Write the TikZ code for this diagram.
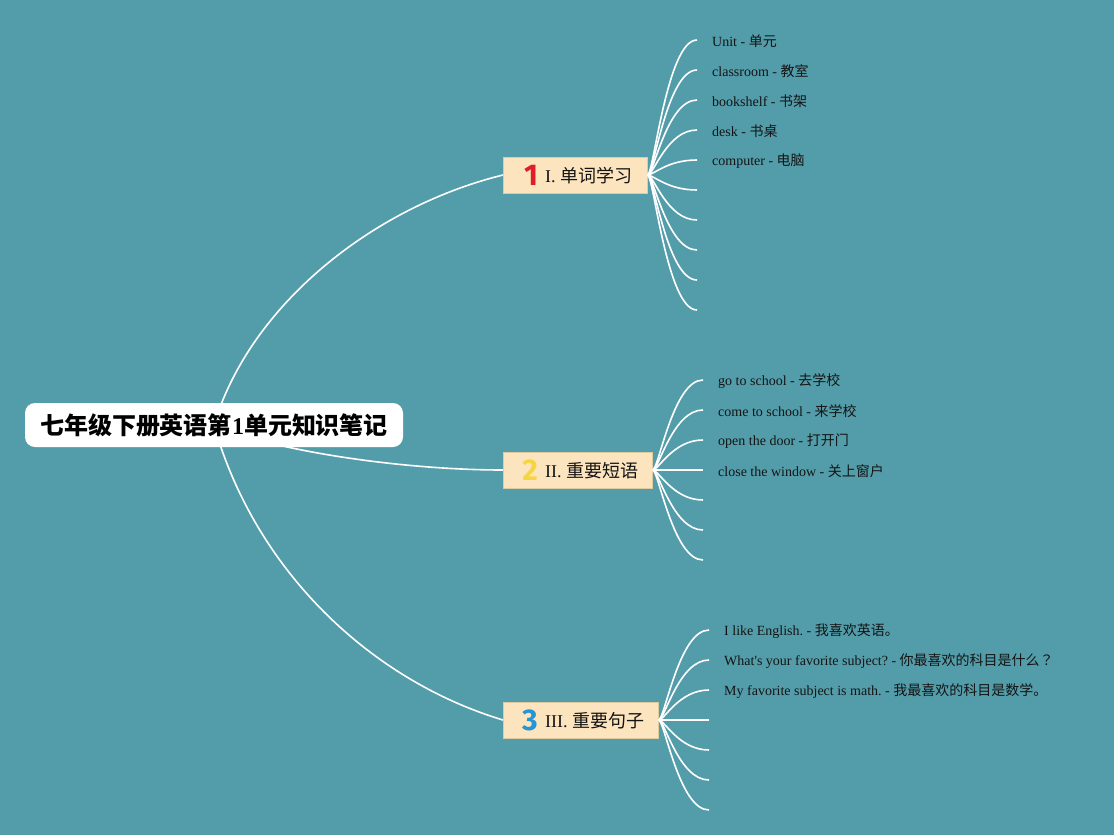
\documentclass[tikz,border=0pt]{standalone}
\usepackage{fontspec}
\setmainfont{Liberation Serif}
\newfontfamily\serifplain{Liberation Serif}
\newfontfamily\cjk{Noto Sans CJK SC}
\newfontfamily\cjktc{Noto Sans CJK TC}
\newfontfamily\iconf{Fira Sans}
\newcommand{\zh}[1]{{\cjk #1}}
\frenchspacing
\definecolor{bgc}{RGB}{83,157,170}
\definecolor{boxfill}{RGB}{252,228,190}
\definecolor{boxline}{RGB}{222,204,160}
\definecolor{ired}{RGB}{222,30,40}
\definecolor{iyellow}{RGB}{246,214,62}
\definecolor{iblue}{RGB}{36,150,216}
\definecolor{txt}{RGB}{20,20,20}
\tikzset{
  mainline/.style={draw=white, line width=1.6pt},
  leafline/.style={draw=white, line width=1.6pt},
  rootbox/.style={fill=white, rounded corners=10pt, minimum width=378pt, minimum height=44pt, inner sep=0pt, font=\fontsize{24}{28}\selectfont\bfseries, text=black},
  branchbox/.style={fill=boxfill, draw=boxline, line width=0.6pt, minimum height=36pt, inner sep=0pt, anchor=west},
  icon/.style={font=\iconf\bfseries\fontsize{30}{30}\selectfont, inner sep=0pt},
  btext/.style={font=\fontsize{18}{20}\selectfont, text=txt, anchor=west, inner sep=0pt},
  leaftext/.style={font=\fontsize{14}{16}\selectfont, text=txt, anchor=west, inner sep=0pt},
}
\begin{document}
\begin{tikzpicture}[x=1pt,y=-1pt]
\useasboundingbox[fill=bgc] (0,0) rectangle (1114,835);

% branch boxes
\node[branchbox, minimum width=144pt] (b1) at (503,175) {};
\node[branchbox, minimum width=149pt] (b2) at (503,470) {};
\node[branchbox, minimum width=155pt] (b3) at (503,720) {};

% root centre, where the main curves start
\coordinate (rc) at (214,425);

% main curves
\draw[mainline] (rc) .. controls (250,305) and (373,207) .. (b1.west);
\draw[mainline] (rc) .. controls (270,450) and (400,470) .. (b2.west);
\draw[mainline] (rc) .. controls (255,570) and (370,680) .. (b3.west);

\node[rootbox] (root) at (214,425) {\zh{七年级下册英语第}1\zh{单元知识笔记}};

% icons and branch labels
\node[icon, text=ired] (i1) at (531,175) {1};
\node[btext] (t1) at (545,176) {I. \zh{单词学习}};
\node[icon, text=iyellow] (i2) at (530,470) {2};
\node[btext] (t2) at (545,471) {II. \zh{重要短语}};
\node[icon, text=iblue] (i3) at (530,720) {3};
\node[btext] (t3) at (545,721) {III. \zh{重要句子}};

% branch 1 leaves
\foreach \k in {0,...,9} {
  \coordinate (e1-\k) at (697,40+30*\k);
  \draw[leafline] (b1.east) .. controls +(6,0) and +(-30,0) .. (e1-\k);
}
\node[leaftext] (l11) at (712,41) {Unit - \zh{单元}};
\node[leaftext] (l12) at (712,71) {classroom - \zh{教室}};
\node[leaftext] (l13) at (712,101) {bookshelf - \zh{书架}};
\node[leaftext] (l14) at (712,131) {desk - \zh{书桌}};
\node[leaftext] (l15) at (712,161) {computer - \zh{电脑}};

% branch 2 leaves
\foreach \k in {0,...,6} {
  \coordinate (e2-\k) at (703,380+30*\k);
  \draw[leafline] (b2.east) .. controls +(6,0) and +(-30,0) .. (e2-\k);
}
\node[leaftext] (l21) at (718,381) {go to school - \zh{去学校}};
\node[leaftext] (l22) at (718,411) {come to school - \zh{来学校}};
\node[leaftext] (l23) at (718,441) {open the door - \zh{打开门}};
\node[leaftext] (l24) at (718,471) {close the window - \zh{关上窗户}};

% branch 3 leaves
\foreach \k in {0,...,6} {
  \coordinate (e3-\k) at (709,630+30*\k);
  \draw[leafline] (b3.east) .. controls +(6,0) and +(-30,0) .. (e3-\k);
}
\node[leaftext] (l31) at (724,631) {I like English. - \zh{我喜欢英语。}};
\node[leaftext] (l32) at (724,661) {What{\serifplain '}s your favorite subject? - \zh{你最喜欢的科目是什么}{\cjktc ？}};
\node[leaftext] (l33) at (724,691) {My favorite subject is math. - \zh{我最喜欢的科目是数学。}};
\end{tikzpicture}
\end{document}
